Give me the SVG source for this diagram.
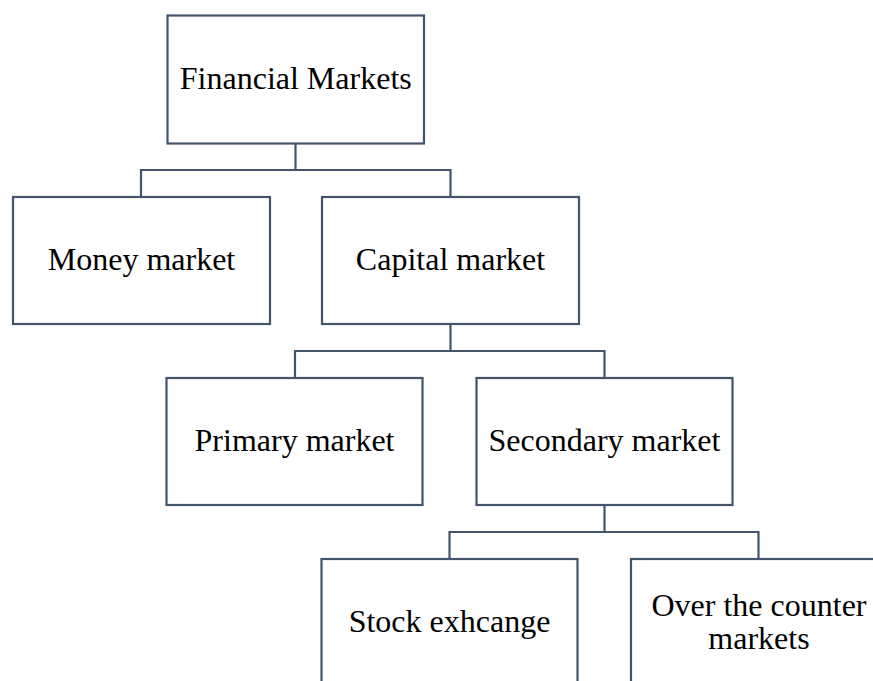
<svg xmlns="http://www.w3.org/2000/svg" width="873" height="681" viewBox="0 0 873 681">
<style>
.box{fill:#ffffff;stroke:#44546A;stroke-width:2.2}
.conn{fill:none;stroke:#44546A;stroke-width:2.2}
.lbl{font-family:"Liberation Serif","Times New Roman",serif;font-size:32px;fill:#000000;text-anchor:middle}
</style>
<rect width="873" height="681" fill="#ffffff"/>
<g id="connectors">
<path class="conn" d="M295.5 143.5 V170"/>
<path class="conn" d="M141 197 V170 H450.5 V197"/>
<path class="conn" d="M450.5 324 V351"/>
<path class="conn" d="M295 378 V351 H604.5 V378"/>
<path class="conn" d="M604.5 505 V532"/>
<path class="conn" d="M449.5 559 V532 H758.5 V559"/>
</g>
<g id="financial-markets">
<rect class="box" x="167.5" y="15.5" width="256.5" height="128"/>
<text class="lbl" x="295.75" y="89">Financial Markets</text>
</g>
<g id="money-market">
<rect class="box" x="13" y="197" width="257" height="127"/>
<text class="lbl" x="141.5" y="270">Money market</text>
</g>
<g id="capital-market">
<rect class="box" x="322" y="197" width="257" height="127"/>
<text class="lbl" x="450.5" y="270">Capital market</text>
</g>
<g id="primary-market">
<rect class="box" x="166.5" y="378" width="256" height="127"/>
<text class="lbl" x="294.5" y="451">Primary market</text>
</g>
<g id="secondary-market">
<rect class="box" x="476.5" y="378" width="256" height="127"/>
<text class="lbl" x="604.5" y="451">Secondary market</text>
</g>
<g id="stock-exchange">
<rect class="box" x="321.5" y="559" width="256" height="128"/>
<text class="lbl" x="449.5" y="632">Stock exhcange</text>
</g>
<g id="otc-markets">
<rect class="box" x="631" y="559" width="256" height="128"/>
<text class="lbl" x="759" y="616">Over the counter</text>
<text class="lbl" x="759" y="649">markets</text>
</g>
</svg>
